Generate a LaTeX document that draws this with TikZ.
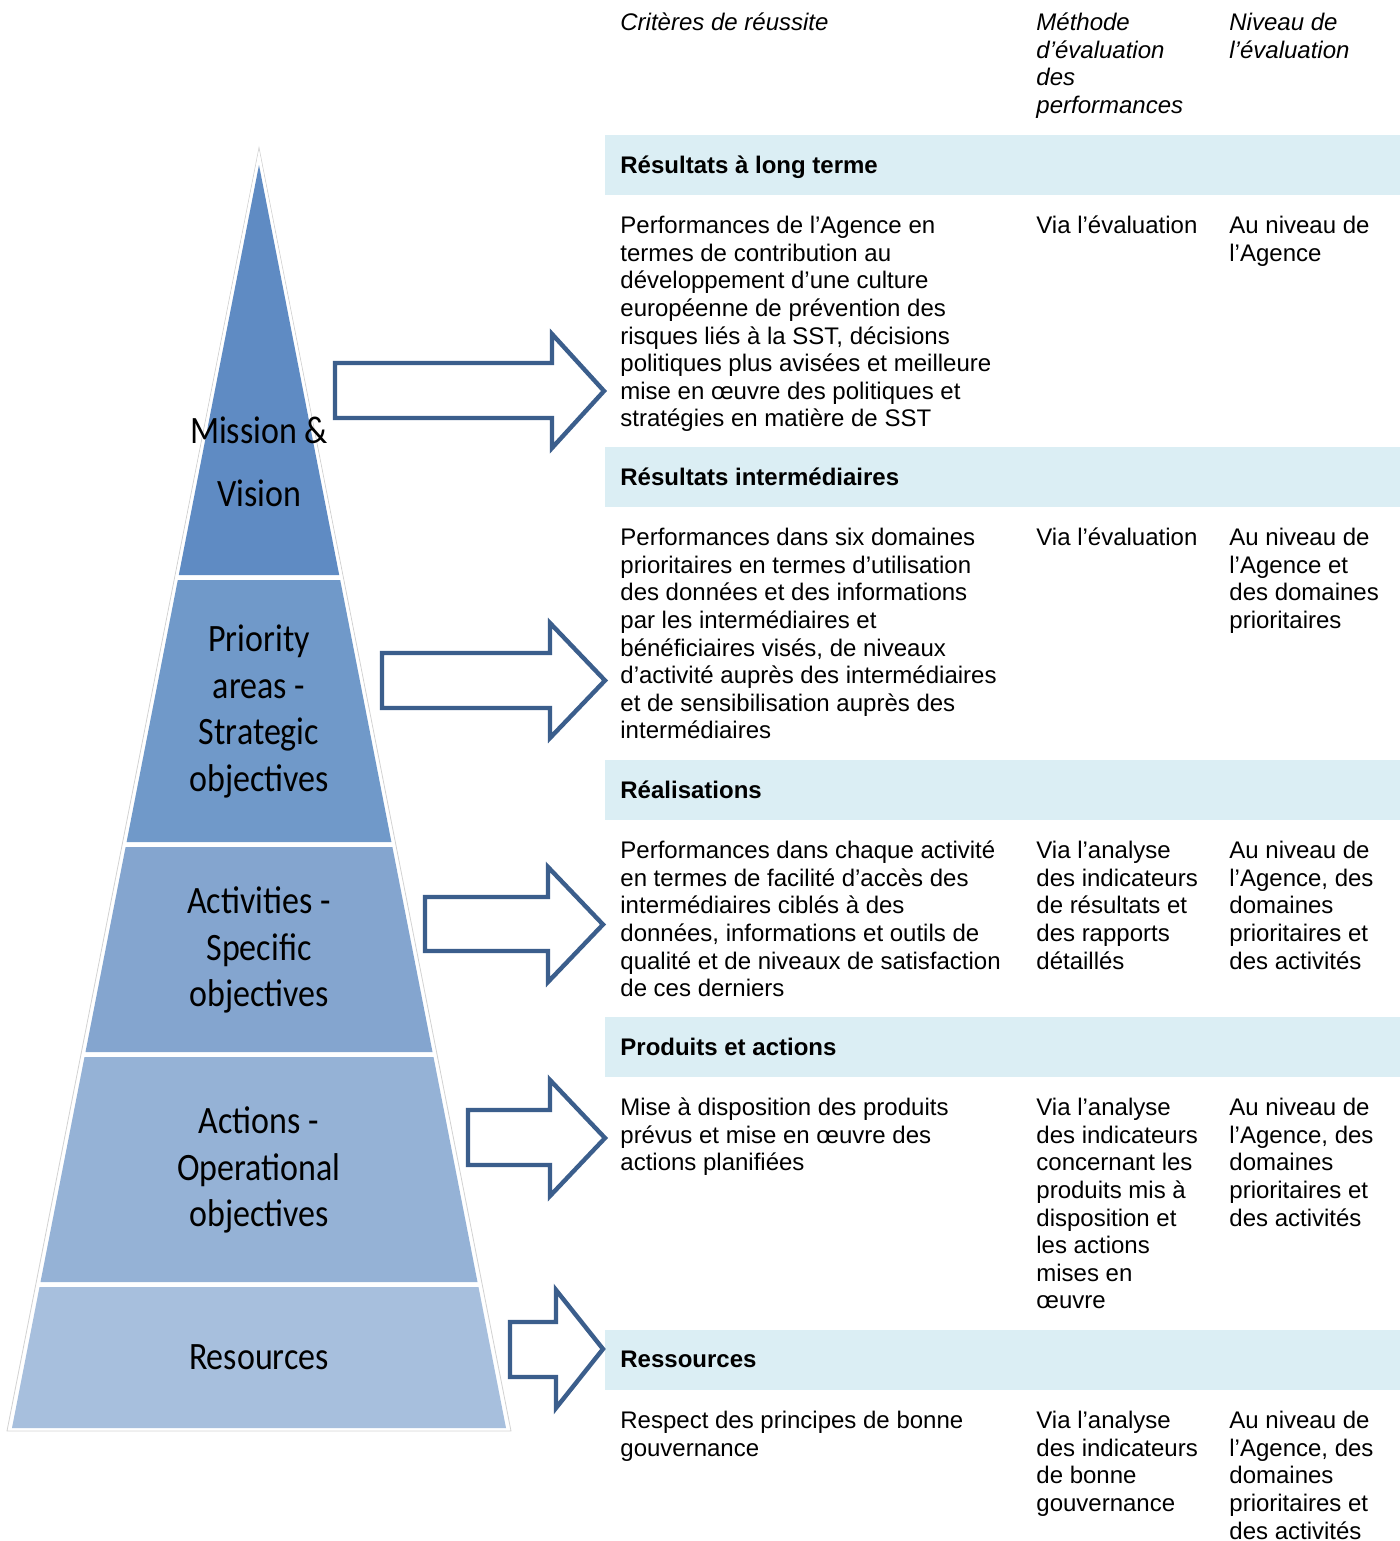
\documentclass[tikz,border=0pt]{standalone}
\usepackage{graphicx}
\usepackage{fontspec}
\setmainfont{Liberation Sans}
\newfontfamily\calib{Carlito}
\definecolor{bandblue}{HTML}{DBEEF4}
\definecolor{arrowblue}{HTML}{3B5E8C}
\definecolor{pyrA}{HTML}{5F8BC3}
\definecolor{pyrB}{HTML}{7099C9}
\definecolor{pyrC}{HTML}{84A5CF}
\definecolor{pyrD}{HTML}{95B2D6}
\definecolor{pyrE}{HTML}{A7BFDD}
\newcommand{\pyrlines}[2]{\scalebox{1}[1.14]{\calib\fontsize{17}{#1}\selectfont\begin{tabular}{@{}c@{}}#2\end{tabular}}}
\begin{document}
\begin{tikzpicture}[x=0.5pt,y=-0.5pt,
  band/.style={fill=bandblue, draw=none},
  blockarrow/.style={draw=arrowblue, line width=2.2pt, fill=white, line join=miter},
  cell/.style={anchor=north west, inner sep=0pt, align=left, font=\fontsize{12}{13.8}\selectfont},
  headcell/.style={cell, font=\itshape\fontsize{12}{13.8}\selectfont},
  titlecell/.style={cell, font=\bfseries\fontsize{12}{13.8}\selectfont},
  pyrtext/.style={anchor=center, inner sep=0pt}
]
\useasboundingbox (0,0) rectangle (1400,1541);
\fill[white] (0,0) rectangle (1400,1541);

% header bands
\fill[band] (605,135) rectangle (1400,195);
\fill[band] (605,447) rectangle (1400,507);
\fill[band] (605,760) rectangle (1400,820);
\fill[band] (605,1017) rectangle (1400,1077);
\fill[band] (605,1330) rectangle (1400,1390);

% pyramid outline (faint)
\draw[gray!35, line width=0.4pt] (259,148) -- (7,1431) -- (511,1431) -- cycle;
\draw[white, line width=1.2pt] (259,156) -- (10,1429) -- (508,1429) -- cycle;

% pyramid segments
\fill[pyrA] (259,165) -- (339.2,575) -- (178.8,575) -- cycle;
\fill[pyrB] (177.8,580) -- (340.2,580) -- (391.4,842) -- (126.6,842) -- cycle;
\fill[pyrC] (125.6,847) -- (392.4,847) -- (432.5,1052) -- (85.5,1052) -- cycle;
\fill[pyrD] (84.5,1057) -- (433.5,1057) -- (477.5,1282) -- (40.5,1282) -- cycle;
\fill[pyrE] (39.5,1287) -- (478.5,1287) -- (506,1428) -- (12,1428) -- cycle;

\node[pyrtext] (mission) at (259,462) {\pyrlines{27.6}{Mission \&\\Vision}};
\node[pyrtext] (priority) at (259,712) {\pyrlines{20.4}{Priority\\areas -\\Strategic\\objectives}};
\node[pyrtext] (activities) at (259,951) {\pyrlines{20.4}{Activities -\\Specific\\objectives}};
\node[pyrtext] (actions) at (259,1171) {\pyrlines{20.4}{Actions -\\Operational\\objectives}};
\node[pyrtext] (resources) at (259,1360) {\pyrlines{20.4}{Resources}};

% block arrows
\draw[blockarrow] (335,363) -- (552,363) -- (552,334) -- (604,391) -- (552,448) -- (552,418) -- (335,418) -- cycle;
\draw[blockarrow] (382,653) -- (550,653) -- (550,623) -- (605,680.5) -- (550,738) -- (550,708) -- (382,708) -- cycle;
\draw[blockarrow] (425,897) -- (548,897) -- (548,867) -- (603,924.5) -- (548,982) -- (548,951) -- (425,951) -- cycle;
\draw[blockarrow] (468,1110) -- (550,1110) -- (550,1080) -- (605,1138) -- (550,1196) -- (550,1165) -- (468,1165) -- cycle;
\draw[blockarrow] (510,1322) -- (556,1322) -- (556,1290) -- (603,1349) -- (556,1408) -- (556,1377) -- (510,1377) -- cycle;

% column headings
\node[headcell] (h1) at (620,11) {\strut Critères de réussite};
\node[headcell] (h2) at (1036,11) {\strut Méthode\\d’évaluation\\des\\performances};
\node[headcell] (h3) at (1229,11) {\strut Niveau de\\l’évaluation};

% row 1
\node[titlecell] (t1) at (620,154) {\strut Résultats à long terme};
\node[cell] (r1a) at (620,214) {\strut Performances de l’Agence en\\termes de contribution au\\développement d’une culture\\européenne de prévention des\\risques liés à la SST, décisions\\politiques plus avisées et meilleure\\mise en œuvre des politiques et\\stratégies en matière de SST};
\node[cell] (r1b) at (1036,214) {\strut Via l’évaluation};
\node[cell] (r1c) at (1229,214) {\strut Au niveau de\\l’Agence};

% row 2
\node[titlecell] (t2) at (620,466) {\strut Résultats intermédiaires};
\node[cell] (r2a) at (620,526) {\strut Performances dans six domaines\\prioritaires en termes d’utilisation\\des données et des informations\\par les intermédiaires et\\bénéficiaires visés, de niveaux\\d’activité auprès des intermédiaires\\et de sensibilisation auprès des\\intermédiaires};
\node[cell] (r2b) at (1036,526) {\strut Via l’évaluation};
\node[cell] (r2c) at (1229,526) {\strut Au niveau de\\l’Agence et\\des domaines\\prioritaires};

% row 3
\node[titlecell] (t3) at (620,779) {\strut Réalisations};
\node[cell] (r3a) at (620,839) {\strut Performances dans chaque activité\\en termes de facilité d’accès des\\intermédiaires ciblés à des\\données, informations et outils de\\qualité et de niveaux de satisfaction\\de ces derniers};
\node[cell] (r3b) at (1036,839) {\strut Via l’analyse\\des indicateurs\\de résultats et\\des rapports\\détaillés};
\node[cell] (r3c) at (1229,839) {\strut Au niveau de\\l’Agence, des\\domaines\\prioritaires et\\des activités};

% row 4
\node[titlecell] (t4) at (620,1036) {\strut Produits et actions};
\node[cell] (r4a) at (620,1096) {\strut Mise à disposition des produits\\prévus et mise en œuvre des\\actions planifiées};
\node[cell] (r4b) at (1036,1096) {\strut Via l’analyse\\des indicateurs\\concernant les\\produits mis à\\disposition et\\les actions\\mises en\\œuvre};
\node[cell] (r4c) at (1229,1096) {\strut Au niveau de\\l’Agence, des\\domaines\\prioritaires et\\des activités};

% row 5
\node[titlecell] (t5) at (620,1348) {\strut Ressources};
\node[cell] (r5a) at (620,1409) {\strut Respect des principes de bonne\\gouvernance};
\node[cell] (r5b) at (1036,1409) {\strut Via l’analyse\\des indicateurs\\de bonne\\gouvernance};
\node[cell] (r5c) at (1229,1409) {\strut Au niveau de\\l’Agence, des\\domaines\\prioritaires et\\des activités};
\end{tikzpicture}
\end{document}
